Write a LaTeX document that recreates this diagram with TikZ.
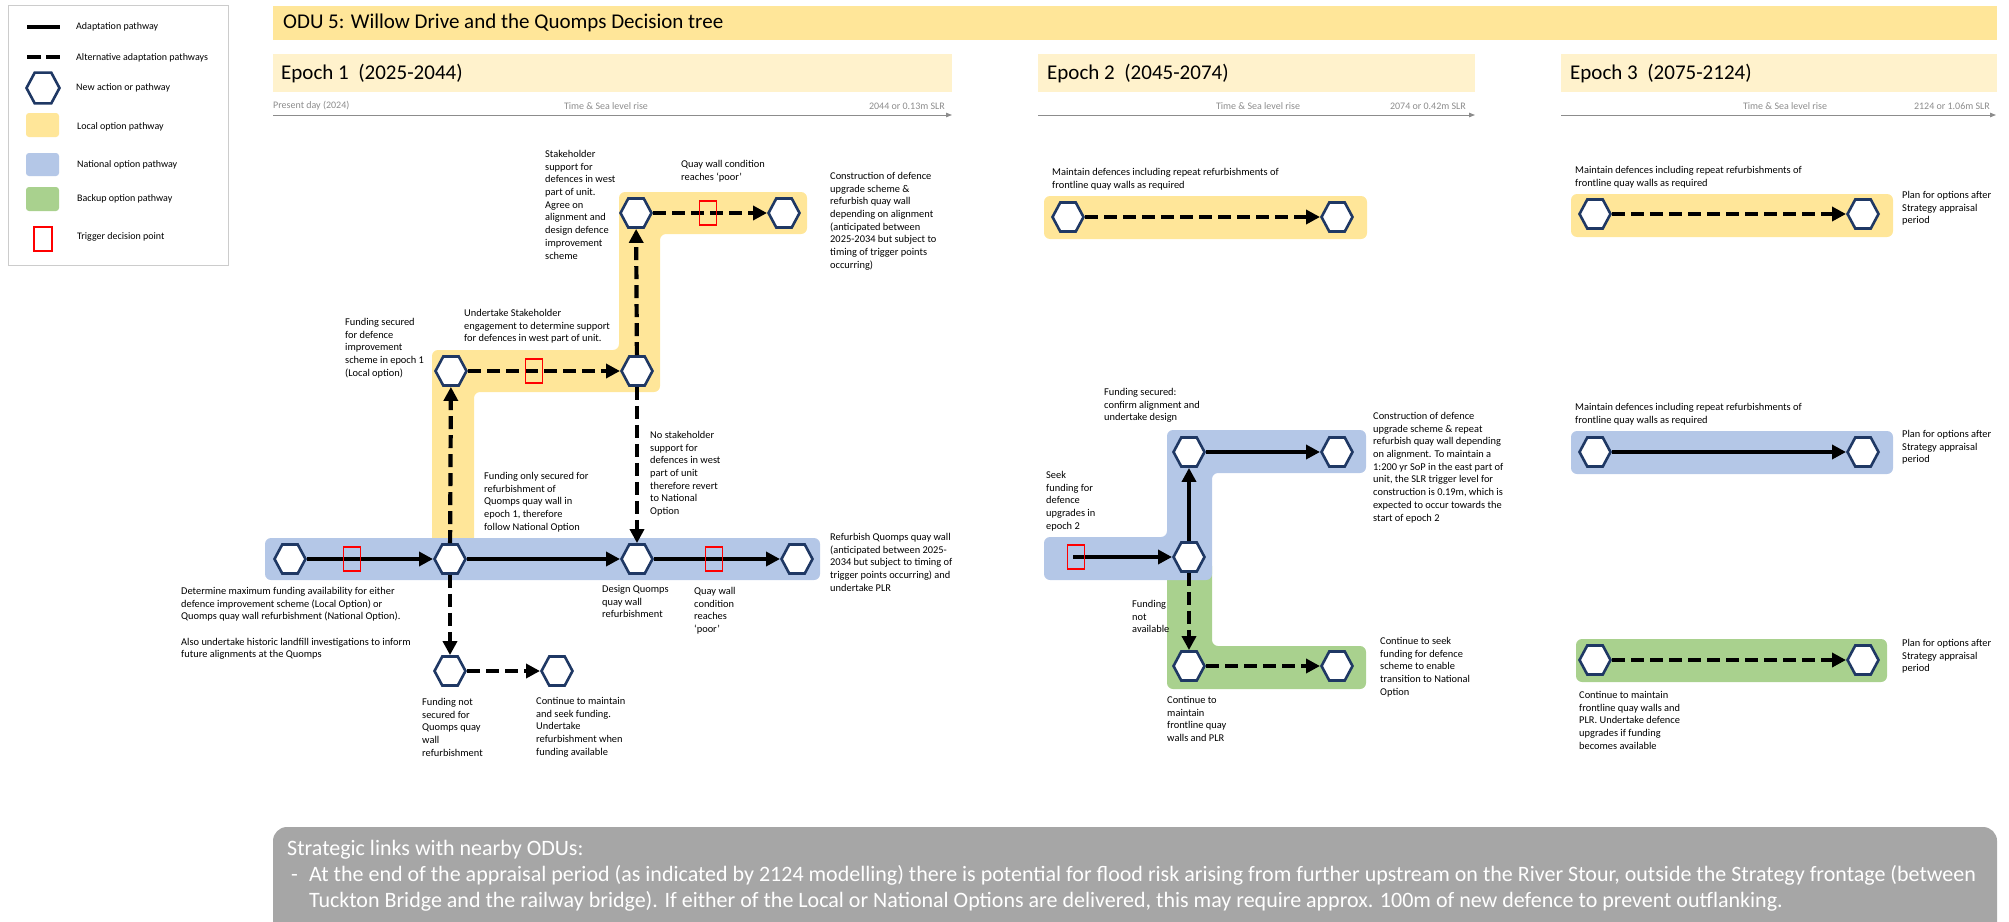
\documentclass[tikz,border=0pt]{standalone}
\usepackage{fontspec}
\setmainfont{Carlito}
\usetikzlibrary{shapes.geometric,arrows.meta}
\definecolor{localyel}{HTML}{FFE699}
\definecolor{epochyel}{HTML}{FFF2CC}
\definecolor{natblue}{HTML}{B4C7E7}
\definecolor{backgreen}{HTML}{A9D18E}
\definecolor{hexnavy}{HTML}{1F3864}
\definecolor{boxgrey}{HTML}{A6A6A6}
\definecolor{axisgrey}{HTML}{8C8C8C}
\begin{document}
\begin{tikzpicture}[x=1pt,y=-1pt,
hexa/.style={regular polygon,regular polygon sides=6,minimum size=31pt,inner sep=0pt,draw=hexnavy,line width=2.6pt,fill=white,yscale=1.08,transform shape},
trig/.style={draw=red,line width=1.4pt,minimum width=17pt,minimum height=24pt,inner sep=0pt},
adapt/.style={line width=4.2pt,-{Triangle[length=14pt,width=14pt]}},
altern/.style={adapt,dash pattern=on 13pt off 6pt},
txt/.style={anchor=north west,inner sep=0pt,align=left,font=\fontsize{10.4}{12.7}\selectfont},
legtxt/.style={anchor=west,inner sep=0pt,font=\fontsize{10}{12}\selectfont},
axtxt/.style={inner sep=0pt,text=axisgrey,font=\fontsize{10}{12}\selectfont},
head/.style={anchor=west,inner sep=0pt,font=\fontsize{21}{25}\selectfont},
timeline/.style={axisgrey,line width=0.9pt,-{Triangle[length=6pt,width=4.5pt]}},
band/.style={rounded corners=6pt}]
\useasboundingbox (0,0) rectangle (2009,921);
\draw[line width=0.8pt,draw=black!20,fill=white] (8,5) rectangle (228,265);
\coordinate (la1) at (27,27);
\coordinate (la2) at (60,27);
\draw[line width=4.2pt] (la1) -- (la2);
\coordinate (lb1) at (27,57);
\coordinate (lb2) at (60,57);
\draw[line width=4.2pt,dash pattern=on 14pt off 5pt] (lb1) -- (lb2);
\node[hexa,minimum size=33pt] (lhex) at (43,88) {};
\fill[localyel,rounded corners=3pt] (26,113) rectangle (59,137);
\fill[natblue,rounded corners=3pt] (26,153) rectangle (59,176);
\fill[backgreen,rounded corners=3pt] (26,187) rectangle (59,211);
\node[trig,minimum width=18pt] (ltrig) at (43,239) {};
\node[legtxt] (lt1) at (76,27) {Adaptation pathway};
\node[legtxt] (lt2) at (76,58) {Alternative adaptation pathways};
\node[legtxt] (lt3) at (76,88) {New action or pathway};
\node[legtxt] (lt4) at (77,127) {Local option pathway};
\node[legtxt] (lt5) at (77,165) {National option pathway};
\node[legtxt] (lt6) at (77,199) {Backup option pathway};
\node[legtxt] (lt7) at (77,237) {Trigger decision point};
\fill[localyel] (273,6) rectangle (1997,40);
\node[head] (title) at (283,23) {ODU 5: Willow Drive and the Quomps Decision tree};
\fill[epochyel] (273,54) rectangle (952,92);
\fill[epochyel] (1038,54) rectangle (1475,92);
\fill[epochyel] (1561,54) rectangle (1997,92);
\node[head] (ep1) at (281,74) {Epoch 1~~(2025-2044)};
\node[head] (ep2) at (1047,74) {Epoch 2~~(2045-2074)};
\node[head] (ep3) at (1570,74) {Epoch 3~~(2075-2124)};
\coordinate (ax1s) at (273,115);
\coordinate (ax1e) at (952,115);
\coordinate (ax2s) at (1038,115);
\coordinate (ax2e) at (1475,115);
\coordinate (ax3s) at (1561,115);
\coordinate (ax3e) at (1996,115);
\draw[timeline] (ax1s) -- (ax1e);
\draw[timeline] (ax2s) -- (ax2e);
\draw[timeline] (ax3s) -- (ax3e);
\node[axtxt,anchor=south west] (ax1a) at (273,110) {Present day (2024)};
\node[axtxt,anchor=south] (ax1b) at (606,110) {Time \& Sea level rise};
\node[axtxt,anchor=south east] (ax1c) at (945,110) {2044 or 0.13m SLR};
\node[axtxt,anchor=south] (ax2b) at (1258,110) {Time \& Sea level rise};
\node[axtxt,anchor=south east] (ax2c) at (1466,110) {2074 or 0.42m SLR};
\node[axtxt,anchor=south] (ax3b) at (1785,110) {Time \& Sea level rise};
\node[axtxt,anchor=south east] (ax3c) at (1990,110) {2124 or 1.06m SLR};
\fill[localyel,band] (432,560) -- (432,350) -- (619,350) -- (619,192) -- (807,192) -- (807,234) -- (660,234) -- (660,392) -- (474,392) -- (474,560) -- cycle;
\fill[natblue,band] (265,538) rectangle (820,580);
\fill[localyel,band] (1044,196) rectangle (1367,239);
\fill[backgreen,band] (1167,560) -- (1212,560) -- (1212,646) -- (1366,646) -- (1366,689) -- (1167,689) -- cycle;
\fill[natblue,band] (1044,537) -- (1167,537) -- (1167,430) -- (1366,430) -- (1366,473) -- (1212,473) -- (1212,580) -- (1044,580) -- cycle;
\fill[localyel,band] (1571,194) rectangle (1893,237);
\fill[natblue,band] (1571,431) rectangle (1893,474);
\fill[backgreen,band] (1576,639) rectangle (1887,682);
\node[hexa] (a1) at (290,559) {};
\node[hexa] (a2) at (450,559) {};
\node[hexa] (a3) at (637,559) {};
\node[hexa] (a4) at (797,559) {};
\node[hexa] (b1) at (451,371) {};
\node[hexa] (b2) at (637,371) {};
\node[hexa] (c1) at (636,213) {};
\node[hexa] (c2) at (784,213) {};
\node[hexa] (d1) at (450,671) {};
\node[hexa] (d2) at (557,671) {};
\draw[adapt] (a1) -- (a2);
\draw[adapt] (a2) -- (a3);
\draw[adapt] (a3) -- (a4);
\draw[altern] (a2) -- (b1);
\draw[altern] (b1) -- (b2);
\draw[altern] (b2) -- (c1);
\draw[altern] (c1) -- (c2);
\draw[altern] (b2) -- (a3);
\draw[altern] (a2) -- (d1);
\draw[altern] (d1) -- (d2);
\node[trig] (t1) at (352,559) {};
\node[trig] (t2) at (714,559) {};
\node[trig] (t3) at (534,371) {};
\node[trig] (t4) at (708,213) {};
\node[hexa] (e1) at (1068,217) {};
\node[hexa] (e2) at (1337,217) {};
\coordinate (f0) at (1073,557);
\node[hexa] (f1) at (1189,557) {};
\node[hexa] (f2) at (1189,452) {};
\node[hexa] (f3) at (1337,452) {};
\node[hexa] (g1) at (1189,666) {};
\node[hexa] (g2) at (1337,666) {};
\draw[altern] (e1) -- (e2);
\draw[adapt] (f0) -- (f1);
\draw[adapt] (f1) -- (f2);
\draw[adapt] (f2) -- (f3);
\draw[altern] (f1) -- (g1);
\draw[altern] (g1) -- (g2);
\node[trig] (t5) at (1076,557) {};
\node[hexa] (h1) at (1595,214) {};
\node[hexa] (h2) at (1863,214) {};
\node[hexa] (i1) at (1595,452) {};
\node[hexa] (i2) at (1863,452) {};
\node[hexa] (j1) at (1595,660) {};
\node[hexa] (j2) at (1863,660) {};
\draw[altern] (h1) -- (h2);
\draw[adapt] (i1) -- (i2);
\draw[altern] (j1) -- (j2);
\node[txt] (n1) at (545,150) {Stakeholder\\support for\\defences in west\\part of unit.\\Agree on\\alignment and\\design defence\\improvement\\scheme};
\node[txt] (n2) at (681,160) {Quay wall condition\\reaches `poor'};
\node[txt] (n3) at (830,172) {Construction of defence\\upgrade scheme \&\\refurbish quay wall\\depending on alignment\\(anticipated between\\2025-2034 but subject to\\timing of trigger points\\occurring)};
\node[txt] (n4) at (345,318) {Funding secured\\for defence\\improvement\\scheme in epoch 1\\(Local option)};
\node[txt] (n5) at (464,309) {Undertake Stakeholder\\engagement to determine support\\for defences in west part of unit.};
\node[txt] (n6) at (650,431) {No stakeholder\\support for\\defences in west\\part of unit\\therefore revert\\to National\\Option};
\node[txt] (n7) at (484,472) {Funding only secured for\\refurbishment of\\Quomps quay wall in\\epoch 1, therefore\\follow National Option};
\node[txt] (n8) at (830,533) {Refurbish Quomps quay wall\\(anticipated between 2025-\\2034 but subject to timing of\\trigger points occurring) and\\undertake PLR};
\node[txt] (n9) at (181,587) {Determine maximum funding availability for either\\defence improvement scheme (Local Option) or\\Quomps quay wall refurbishment (National Option).\\[12.7pt]Also undertake historic landfill investigations to inform\\future alignments at the Quomps};
\node[txt] (n10) at (602,585) {Design Quomps\\quay wall\\refurbishment};
\node[txt] (n11) at (694,587) {Quay wall\\condition\\reaches\\`poor'};
\node[txt] (n12) at (422,698) {Funding not\\secured for\\Quomps quay\\wall\\refurbishment};
\node[txt] (n13) at (536,697) {Continue to maintain\\and seek funding.\\Undertake\\refurbishment when\\funding available};
\node[txt] (m1) at (1052,168) {Maintain defences including repeat refurbishments of\\frontline quay walls as required};
\node[txt] (m2) at (1104,388) {Funding secured:\\confirm alignment and\\undertake design};
\node[txt] (m3) at (1373,412) {Construction of defence\\upgrade scheme \& repeat\\refurbish quay wall depending\\on alignment. To maintain a\\1:200 yr SoP in the east part of\\unit, the SLR trigger level for\\construction is 0.19m, which is\\expected to occur towards the\\start of epoch 2};
\node[txt] (m4) at (1046,471) {Seek\\funding for\\defence\\upgrades in\\epoch 2};
\node[txt] (m5) at (1132,600) {Funding\\not\\available};
\node[txt] (m6) at (1380,637) {Continue to seek\\funding for defence\\scheme to enable\\transition to National\\Option};
\node[txt] (m7) at (1167,696) {Continue to\\maintain\\frontline quay\\walls and PLR};
\node[txt] (p1) at (1575,166) {Maintain defences including repeat refurbishments of\\frontline quay walls as required};
\node[txt] (p2) at (1902,191) {Plan for options after\\Strategy appraisal\\period};
\node[txt] (p3) at (1575,403) {Maintain defences including repeat refurbishments of\\frontline quay walls as required};
\node[txt] (p4) at (1902,430) {Plan for options after\\Strategy appraisal\\period};
\node[txt] (p5) at (1902,639) {Plan for options after\\Strategy appraisal\\period};
\node[txt] (p6) at (1579,691) {Continue to maintain\\frontline quay walls and\\PLR. Undertake defence\\upgrades if funding\\becomes available};
\begin{scope}
\clip (0,0) rectangle (2009,921);
\fill[boxgrey,rounded corners=14pt] (273,827) rectangle (1997,960);
\end{scope}
\node[anchor=north west,inner sep=0pt,align=left,text=white,font=\fontsize{22}{26}\selectfont] (links) at (287,840) {Strategic links with nearby ODUs:\\\makebox[22pt][l]{\hspace{4pt}-}At the end of the appraisal period (as indicated by 2124 modelling) there is potential for flood risk arising from further upstream on the River Stour, outside the Strategy frontage (between\\\hspace*{22pt}Tuckton Bridge and the railway bridge). If either of the Local or National Options are delivered, this may require approx. 100m of new defence to prevent outflanking.};
\end{tikzpicture}
\end{document}
